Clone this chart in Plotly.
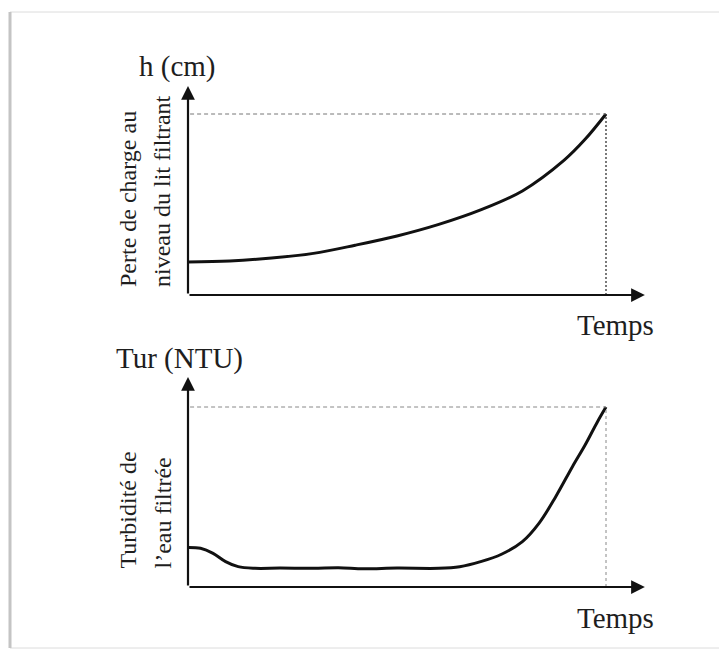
import plotly.graph_objects as go

# Filter run: head loss across the filter bed (top) and filtered-water turbidity (bottom)
time_h = [0, 10, 20, 30, 40, 50, 60, 70, 80, 90, 95, 100]
head_loss = [18.2, 18.8, 20.4, 23.0, 27.5, 32.6, 39.0, 47.0, 57.5, 74.5, 86.0, 100.0]

time_t = [0, 3, 6, 9, 12, 16, 22, 30, 36, 42, 50, 60, 65, 70, 75, 80, 84, 88, 92, 95, 98, 100]
turbidity = [22.0, 21.5, 18.7, 14.1, 11.3, 10.4, 10.5, 10.4, 10.7, 10.1, 10.5, 10.4,
             11.3, 14.1, 18.2, 25.2, 35.5, 50.3, 67.0, 78.9, 92.0, 100.0]

# End of the run (breakthrough) and axis extents, in data units
t_end = 100
h_end = head_loss[-1]
tur_end = turbidity[-1]
x_axis_len = 109.3
y_axis_len_top = 115.5
y_axis_len_bot = 116.7

W, H = 719, 650
INK = "#1e1e1e"
SERIF = "Liberation Serif, Times New Roman, serif"


def px(x):
    return x / W


def py(y):
    return 1 - y / H


fig = go.Figure()
fig.add_trace(go.Scatter(x=time_h, y=head_loss, mode="lines", line_shape="spline",
                         line=dict(color="#111", width=3), xaxis="x", yaxis="y",
                         hoverinfo="skip"))
fig.add_trace(go.Scatter(x=time_t, y=turbidity, mode="lines", line_shape="spline",
                         line=dict(color="#111", width=3), xaxis="x2", yaxis="y2",
                         hoverinfo="skip"))

hidden = dict(showgrid=False, zeroline=False, showticklabels=False, ticks="",
              showline=False, fixedrange=True)
x_dom = [px(188), px(650)]
x_rng = [0, (650 - 188) / 4.18]

fig.update_layout(
    width=W, height=H, margin=dict(l=0, r=0, t=0, b=0),
    paper_bgcolor="white", plot_bgcolor="rgba(0,0,0,0)", showlegend=False,
    xaxis=dict(domain=x_dom, range=x_rng, anchor="y", **hidden),
    yaxis=dict(domain=[py(295), py(80)], range=[0, (295 - 80) / 1.81], anchor="x", **hidden),
    xaxis2=dict(domain=x_dom, range=x_rng, anchor="y2", **hidden),
    yaxis2=dict(domain=[py(587), py(370)], range=[0, (587 - 370) / 1.8], anchor="x2", **hidden),
)

shapes = [
    # page frame
    dict(type="rect", xref="paper", yref="paper", x0=px(10), x1=1.05, y0=py(648), y1=py(12),
         line=dict(color="#dcdcdc", width=1), layer="below"),
    dict(type="line", xref="paper", yref="paper", x0=px(10), x1=px(10), y0=py(648), y1=py(12),
         line=dict(color="#c4c4c4", width=3), layer="below"),
    # reference lines at the end of the run
    dict(type="line", xref="x", yref="y", x0=0.5, x1=t_end, y0=h_end, y1=h_end,
         line=dict(color="#777", width=1, dash="4px,3px")),
    dict(type="line", xref="x", yref="y", x0=t_end, x1=t_end, y0=0, y1=h_end,
         line=dict(color="#333", width=1.3, dash="2px,2px")),
    dict(type="line", xref="x2", yref="y2", x0=0.5, x1=t_end, y0=tur_end, y1=tur_end,
         line=dict(color="#888", width=1, dash="4px,3px")),
    dict(type="line", xref="x2", yref="y2", x0=t_end, x1=t_end, y0=0, y1=tur_end,
         line=dict(color="#888", width=1, dash="3px,3px")),
]
fig.update_layout(shapes=shapes)

ann = []
# axis arrows
for xr, yr, ylen in (("x", "y", y_axis_len_top), ("x2", "y2", y_axis_len_bot)):
    for (tx, ty) in ((x_axis_len, 0), (0, ylen)):
        ann.append(dict(xref=xr, yref=yr, axref=xr, ayref=yr, x=tx, y=ty, ax=0, ay=0,
                        text="", showarrow=True, arrowhead=2, arrowsize=1.25,
                        arrowwidth=2.2, arrowcolor="#111", standoff=0, startstandoff=0))


def label(text, x, y, size, xanchor="center", yanchor="middle", angle=0):
    ann.append(dict(xref="paper", yref="paper", x=px(x), y=py(y), text=text,
                    showarrow=False, xanchor=xanchor, yanchor=yanchor, textangle=angle,
                    font=dict(family=SERIF, size=size, color=INK)))


label("h (cm)", 177, 66, 29)
label("Tur (NTU)", 179, 358, 29)
label("Temps", 615, 325, 29)
label("Temps", 615, 618, 29)
label("Perte de charge au", 128, 289, 24, yanchor="bottom", angle=-90)
label("niveau du lit filtrant", 162, 289, 24, yanchor="bottom", angle=-90)
label("Turbidité de", 127, 571, 24, yanchor="bottom", angle=-90)
label("l’eau filtrée", 162, 571, 24, yanchor="bottom", angle=-90)

fig.update_layout(annotations=ann)
fig.write_html("out.html", config=dict(displayModeBar=False))
